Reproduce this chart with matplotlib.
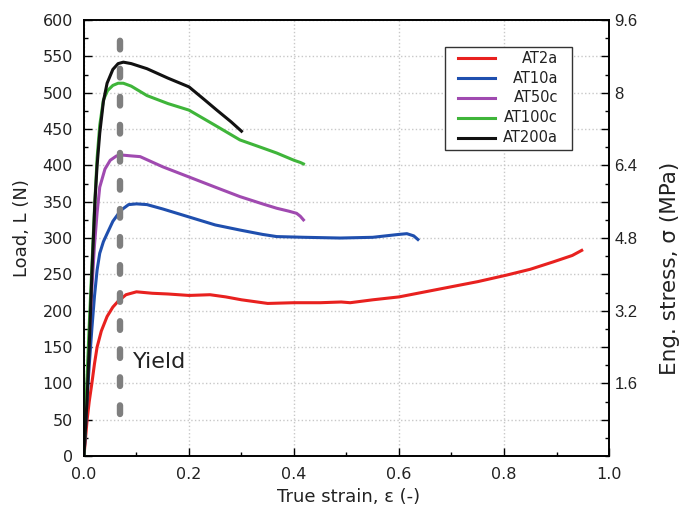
import matplotlib
matplotlib.use("Agg")
import matplotlib.pyplot as plt
from matplotlib.patches import Rectangle
from matplotlib.ticker import MultipleLocator, FixedLocator, FixedFormatter

plt.rcParams['font.family'] = ['DejaVu Sans']

# Data (true strain, load N)
at2a_x = [0.0, 0.003, 0.006, 0.010, 0.015, 0.020, 0.025, 0.033, 0.044, 0.055, 0.065, 0.080, 0.100, 0.130, 0.160,
          0.200, 0.240, 0.270, 0.300, 0.330, 0.350, 0.400, 0.450, 0.490, 0.507, 0.550, 0.600, 0.650, 0.700,
          0.750, 0.805, 0.850, 0.893, 0.930, 0.948]
at2a_y = [0, 25, 50, 75, 100, 127, 150, 172, 192, 205, 213, 222, 226, 224, 223,
          221, 222, 219, 215, 212, 210, 211, 211, 212, 211, 215, 219, 226, 233,
          240, 249, 257, 267, 276, 283]

at10a_x = [0.0, 0.003, 0.006, 0.010, 0.015, 0.020, 0.025, 0.030, 0.037, 0.044, 0.055, 0.070, 0.085, 0.100, 0.120,
           0.150, 0.200, 0.250, 0.297, 0.340, 0.367, 0.420, 0.488, 0.550, 0.600, 0.615, 0.628, 0.636]
at10a_y = [0, 40, 80, 125, 175, 220, 256, 279, 295, 306, 323, 338, 346, 347, 346,
           340, 329, 318, 311, 305, 302, 301, 300, 301, 305, 306, 303, 298]

at50c_x = [0.0, 0.003, 0.006, 0.010, 0.015, 0.020, 0.025, 0.030, 0.040, 0.050, 0.062, 0.075, 0.090, 0.107, 0.150,
           0.200, 0.250, 0.297, 0.340, 0.367, 0.390, 0.405, 0.412, 0.418]
at50c_y = [0, 50, 100, 160, 230, 290, 335, 370, 395, 407, 413, 414, 413, 412, 398,
           384, 370, 357, 347, 341, 337, 334, 330, 325]

at100c_x = [0.0, 0.003, 0.006, 0.010, 0.015, 0.020, 0.025, 0.030, 0.037, 0.045, 0.055, 0.065, 0.075, 0.090, 0.120,
            0.160, 0.200, 0.250, 0.297, 0.340, 0.367, 0.400, 0.412, 0.418]
at100c_y = [0, 55, 110, 180, 260, 340, 410, 455, 490, 503, 510, 513, 513, 509, 496,
            485, 476, 455, 435, 424, 417, 407, 404, 402]

at200a_x = [0.0, 0.003, 0.006, 0.010, 0.015, 0.021, 0.025, 0.030, 0.037, 0.044, 0.055, 0.065, 0.075, 0.090, 0.120,
            0.160, 0.200, 0.230, 0.253, 0.280, 0.300]
at200a_y = [0, 40, 80, 150, 250, 352, 400, 444, 488, 513, 532, 540, 542, 540, 533,
            520, 508, 490, 476, 460, 447]

series = [
    ("AT2a", at2a_x, at2a_y, "#e8211f"),
    ("AT10a", at10a_x, at10a_y, "#1f4fae"),
    ("AT50c", at50c_x, at50c_y, "#a04ab0"),
    ("AT100c", at100c_x, at100c_y, "#3fb53a"),
    ("AT200a", at200a_x, at200a_y, "#111111"),
]

yield_strain = 0.068
yield_load = [58, 582]

fig = plt.figure(figsize=(6.8, 5.13), dpi=100)
ax = fig.add_axes([0.1235, 0.111, 0.7721, 0.850])

ax.grid(True, which='major', linestyle=':', color='#c8c8c8', linewidth=1.0)
ax.set_axisbelow(True)

for name, xs, ys, c in series:
    ax.plot(xs, ys, color=c, linewidth=2.2, label=name, zorder=4)

ax.plot([yield_strain, yield_strain], yield_load, color='#7f7f7f', linewidth=4.6,
        dashes=(1.35, 3.04), dash_capstyle='round', zorder=4.5)

ax.text(0.093, 130, "Yield", fontsize=16, va='center', ha='left', color='#222222')

ax.set_xlim(0, 1.0)
ax.set_ylim(0, 600)
ax.xaxis.set_minor_locator(MultipleLocator(0.1))
ax.yaxis.set_major_locator(MultipleLocator(50))
ax.yaxis.set_minor_locator(MultipleLocator(25))
ax.set_xticks([0.0, 0.2, 0.4, 0.6, 0.8, 1.0])
ax.set_xticklabels(["0.0", "0.2", "0.4", "0.6", "0.8", "1.0"])
ax.tick_params(axis='both', which='both', direction='in', top=False, right=False, labelsize=11.5,
               colors='#222222')
ax.tick_params(axis='y', which='major', pad=8)
ax.tick_params(axis='x', which='major', pad=8)
ax.tick_params(which='major', length=6, width=1, color='black')
ax.tick_params(which='minor', length=3, width=1, color='black')
ax.set_xlabel("True strain, ε (-)", fontsize=13, color='#222222')
ax.set_ylabel("Load, L (N)", fontsize=13, color='#222222')
ax.yaxis.set_label_coords(-0.100, 0.523)
ax.xaxis.set_label_coords(0.503, -0.074)

for sp in ax.spines.values():
    sp.set_linewidth(1.2)

ax2 = ax.twinx()
ax2.set_ylim(0, 9.6)
major = [0.8 * i for i in range(1, 13)]
labels = ["" if i % 2 else ("8" if i == 10 else f"{0.8 * i:.1f}") for i in range(1, 13)]
ax2.yaxis.set_major_locator(FixedLocator(major))
ax2.yaxis.set_major_formatter(FixedFormatter(labels))
ax2.yaxis.set_minor_locator(MultipleLocator(0.4))
ax2.tick_params(axis='y', which='both', direction='in', labelsize=11.5, colors='#222222')
ax2.tick_params(which='major', length=6, width=1, pad=4, color='black')
ax2.tick_params(which='minor', length=3, width=1, color='black')
for t in ax2.get_yticklabels():
    t.set_fontfamily('Liberation Sans')
    t.set_fontsize(12)
ax2.set_ylabel("Eng. stress, σ (MPa)", fontsize=15.5, color='#222222')
ax2.yaxis.set_label_coords(1.097, 0.430)
for sp in ax2.spines.values():
    sp.set_linewidth(1.2)

# legend frame (drawn separately so its paddings match)
ax.add_patch(Rectangle((0.6876, 0.702), 0.2419, 0.2362, transform=ax.transAxes,
                       facecolor='white', edgecolor='#333333', linewidth=1.0, zorder=5))
leg = ax.legend(loc='upper left', bbox_to_anchor=(0.712, 0.928), borderaxespad=0, fontsize=10.5,
                frameon=False, handlelength=2.53, labelspacing=0.33, borderpad=0.0,
                handletextpad=0.48)
leg.set_zorder(6)

# right-aligned legend labels, placed on the rows of the legend handles
fig.canvas.draw()
inv = ax.transAxes.inverted()
label_right = 0.903
for t, h in zip(leg.get_texts(), leg.legend_handles):
    pts = h.get_transform().transform(list(zip(h.get_xdata(), h.get_ydata())))
    ymid = inv.transform((0, pts[:, 1].mean()))[1]
    t.set_visible(False)
    ax.text(label_right, ymid, t.get_text(), transform=ax.transAxes, ha='right', va='center',
            fontsize=10.5, color='#222222', zorder=7)

fig.savefig("out.png", dpi=100)
